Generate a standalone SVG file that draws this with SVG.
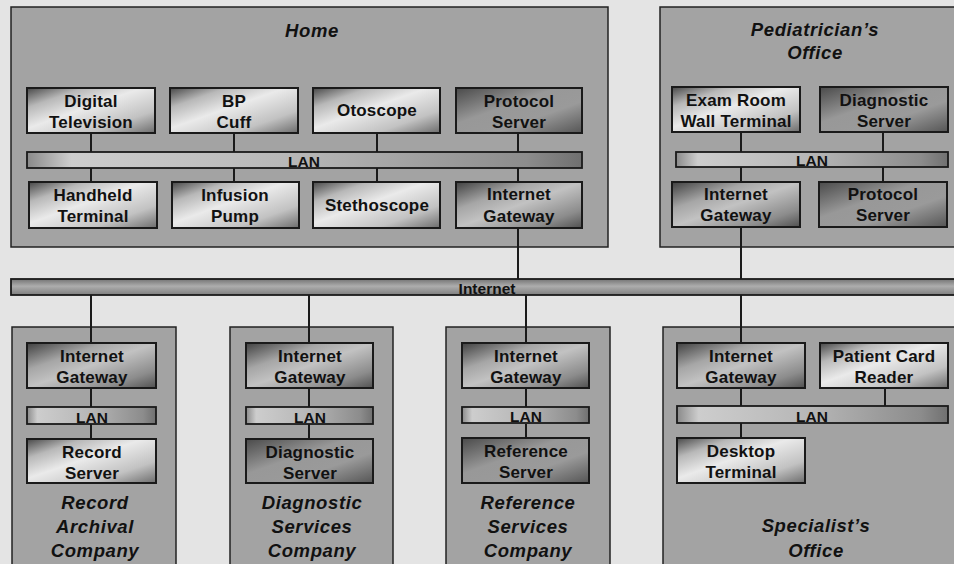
<svg xmlns="http://www.w3.org/2000/svg" width="954" height="564" viewBox="0 0 954 564">
<defs>
<linearGradient id="gLight" x1="0" y1="0" x2="1" y2="1">
<stop offset="0" stop-color="#474747"/>
<stop offset="0.22" stop-color="#b8b8b8"/>
<stop offset="0.45" stop-color="#eaeaea"/>
<stop offset="0.75" stop-color="#c2c2c2"/>
<stop offset="1" stop-color="#6c6c6c"/>
</linearGradient>
<linearGradient id="gMid" x1="0" y1="0" x2="1" y2="1">
<stop offset="0" stop-color="#404040"/>
<stop offset="0.3" stop-color="#a6a6a6"/>
<stop offset="0.5" stop-color="#c2c2c2"/>
<stop offset="0.8" stop-color="#8c8c8c"/>
<stop offset="1" stop-color="#505050"/>
</linearGradient>
<linearGradient id="gDark" x1="0" y1="0" x2="1" y2="1">
<stop offset="0" stop-color="#4a4a4a"/>
<stop offset="0.4" stop-color="#989898"/>
<stop offset="0.65" stop-color="#9a9a9a"/>
<stop offset="1" stop-color="#555"/>
</linearGradient>
<linearGradient id="gLan" x1="0" y1="0" x2="1" y2="0">
<stop offset="0" stop-color="#8a8a8a"/>
<stop offset="0.08" stop-color="#cdcdcd"/>
<stop offset="0.5" stop-color="#b6b6b6"/>
<stop offset="0.9" stop-color="#8c8c8c"/>
<stop offset="1" stop-color="#707070"/>
</linearGradient>
<linearGradient id="gBus" x1="0" y1="0" x2="0" y2="1">
<stop offset="0" stop-color="#747474"/>
<stop offset="0.45" stop-color="#adadad"/>
<stop offset="1" stop-color="#7e7e7e"/>
</linearGradient>
</defs>
<style>
.bg{fill:#e4e4e4}
.site{fill:#a3a3a3;stroke:#222;stroke-width:1.5}
.nl{stroke:#1a1a1a;stroke-width:2}
.light{fill:url(#gLight)}
.mid{fill:url(#gMid)}
.dark{fill:url(#gDark)}
.lan{fill:url(#gLan);stroke:#1a1a1a;stroke-width:1.8}
.bus{fill:url(#gBus);stroke:#1a1a1a;stroke-width:1.8}
.t{font-family:"Liberation Sans",Arial,sans-serif;font-weight:bold;font-size:17px;letter-spacing:0.2px;fill:#111;text-anchor:middle}
.bt{font-family:"Liberation Sans",Arial,sans-serif;font-weight:bold;font-size:15.5px;fill:#111;text-anchor:middle}
.title{font-family:"Liberation Sans",Arial,sans-serif;font-weight:bold;font-style:italic;font-size:18.5px;letter-spacing:0.6px;fill:#111;text-anchor:middle}
.c{stroke:#1a1a1a;stroke-width:2;fill:none}
</style>
<rect class="bg" x="0" y="0" width="954" height="564"/>

<!-- Sites -->
<g id="site-home">
<rect class="site" x="11" y="7" width="597" height="240"/>
<text class="title" x="312" y="37">Home</text>
</g>
<g id="site-pediatrician">
<rect class="site" x="660" y="7" width="310" height="240"/>
<text class="title" x="815" y="36">Pediatrician’s</text>
<text class="title" x="815" y="59">Office</text>
</g>
<g id="site-record">
<rect class="site" x="12" y="327" width="164" height="250"/>
<text class="title" x="95" y="509">Record</text>
<text class="title" x="95" y="533">Archival</text>
<text class="title" x="95" y="557">Company</text>
</g>
<g id="site-diagnostic">
<rect class="site" x="230" y="327" width="163" height="250"/>
<text class="title" x="312" y="509">Diagnostic</text>
<text class="title" x="312" y="533">Services</text>
<text class="title" x="312" y="557">Company</text>
</g>
<g id="site-reference">
<rect class="site" x="446" y="327" width="164" height="250"/>
<text class="title" x="528" y="509">Reference</text>
<text class="title" x="528" y="533">Services</text>
<text class="title" x="528" y="557">Company</text>
</g>
<g id="site-specialist">
<rect class="site" x="663" y="327" width="310" height="250"/>
<text class="title" x="816" y="532">Specialist’s</text>
<text class="title" x="816" y="557">Office</text>
</g>

<!-- Connectors -->
<g id="connectors">
<path class="c" d="M91 133V152M91 168V182M234 133V152M234 168V182M377 133V152M377 168V182M518 133V152M518 168V182M518 228V279"/>
<path class="c" d="M741 132V152M741 167V182M741 227V279M883 132V152M883 167V182"/>
<path class="c" d="M91 295V343M91 388V407M91 424V439"/>
<path class="c" d="M309 295V343M309 388V407M309 424V439"/>
<path class="c" d="M526 295V343M526 388V407M526 424V439"/>
<path class="c" d="M741 295V343M741 388V406M741 423V438M885 388V406"/>
</g>

<!-- Buses -->
<g id="internet">
<rect class="bus" x="11" y="279" width="960" height="16"/>
<text class="bt" x="487" y="294">Internet</text>
</g>
<g id="lan-home">
<rect class="lan" x="27" y="152" width="555" height="16"/>
<text class="bt" x="304" y="167">LAN</text>
</g>
<g id="lan-pediatrician">
<rect class="lan" x="676" y="152" width="272" height="15"/>
<text class="bt" x="812" y="166">LAN</text>
</g>
<g id="lan-record">
<rect class="lan" x="27" y="407" width="129" height="17"/>
<text class="bt" x="92" y="423">LAN</text>
</g>
<g id="lan-diagnostic">
<rect class="lan" x="246" y="407" width="127" height="17"/>
<text class="bt" x="310" y="423">LAN</text>
</g>
<g id="lan-reference">
<rect class="lan" x="462" y="407" width="127" height="16"/>
<text class="bt" x="526" y="422">LAN</text>
</g>
<g id="lan-specialist">
<rect class="lan" x="677" y="406" width="271" height="17"/>
<text class="bt" x="812" y="422">LAN</text>
</g>

<!-- Home nodes -->
<g id="digital-television">
<rect class="nl light" x="27" y="88" width="128" height="45"/>
<text class="t" x="91" y="107">Digital</text>
<text class="t" x="91" y="128">Television</text>
</g>
<g id="bp-cuff">
<rect class="nl light" x="170" y="88" width="128" height="45"/>
<text class="t" x="234" y="107">BP</text>
<text class="t" x="234" y="128">Cuff</text>
</g>
<g id="otoscope">
<rect class="nl light" x="313" y="88" width="127" height="45"/>
<text class="t" x="377" y="116">Otoscope</text>
</g>
<g id="protocol-server-home">
<rect class="nl dark" x="456" y="88" width="126" height="45"/>
<text class="t" x="519" y="107">Protocol</text>
<text class="t" x="519" y="128">Server</text>
</g>
<g id="handheld-terminal">
<rect class="nl light" x="29" y="182" width="128" height="46"/>
<text class="t" x="93" y="201">Handheld</text>
<text class="t" x="93" y="222">Terminal</text>
</g>
<g id="infusion-pump">
<rect class="nl light" x="172" y="182" width="127" height="46"/>
<text class="t" x="235" y="201">Infusion</text>
<text class="t" x="235" y="222">Pump</text>
</g>
<g id="stethoscope">
<rect class="nl light" x="313" y="182" width="127" height="46"/>
<text class="t" x="377" y="211">Stethoscope</text>
</g>
<g id="gateway-home">
<rect class="nl mid" x="456" y="182" width="126" height="46"/>
<text class="t" x="519" y="200">Internet</text>
<text class="t" x="519" y="222">Gateway</text>
</g>

<!-- Pediatrician nodes -->
<g id="exam-room-terminal">
<rect class="nl light" x="672" y="87" width="128" height="45"/>
<text class="t" x="736" y="106">Exam Room</text>
<text class="t" x="736" y="127">Wall Terminal</text>
</g>
<g id="diagnostic-server-ped">
<rect class="nl dark" x="820" y="87" width="128" height="45"/>
<text class="t" x="884" y="106">Diagnostic</text>
<text class="t" x="884" y="127">Server</text>
</g>
<g id="gateway-ped">
<rect class="nl mid" x="672" y="182" width="128" height="45"/>
<text class="t" x="736" y="200">Internet</text>
<text class="t" x="736" y="221">Gateway</text>
</g>
<g id="protocol-server-ped">
<rect class="nl dark" x="819" y="182" width="128" height="45"/>
<text class="t" x="883" y="200">Protocol</text>
<text class="t" x="883" y="221">Server</text>
</g>

<!-- Record company -->
<g id="gateway-record">
<rect class="nl mid" x="27" y="343" width="129" height="45"/>
<text class="t" x="92" y="362">Internet</text>
<text class="t" x="92" y="383">Gateway</text>
</g>
<g id="record-server">
<rect class="nl light" x="27" y="439" width="129" height="44"/>
<text class="t" x="92" y="458">Record</text>
<text class="t" x="92" y="479">Server</text>
</g>

<!-- Diagnostic company -->
<g id="gateway-diagnostic">
<rect class="nl mid" x="246" y="343" width="127" height="45"/>
<text class="t" x="310" y="362">Internet</text>
<text class="t" x="310" y="383">Gateway</text>
</g>
<g id="diagnostic-server">
<rect class="nl dark" x="246" y="439" width="127" height="44"/>
<text class="t" x="310" y="458">Diagnostic</text>
<text class="t" x="310" y="479">Server</text>
</g>

<!-- Reference company -->
<g id="gateway-reference">
<rect class="nl mid" x="462" y="343" width="127" height="45"/>
<text class="t" x="526" y="362">Internet</text>
<text class="t" x="526" y="383">Gateway</text>
</g>
<g id="reference-server">
<rect class="nl dark" x="462" y="438" width="127" height="45"/>
<text class="t" x="526" y="457">Reference</text>
<text class="t" x="526" y="478">Server</text>
</g>

<!-- Specialist office -->
<g id="gateway-specialist">
<rect class="nl mid" x="677" y="343" width="128" height="45"/>
<text class="t" x="741" y="362">Internet</text>
<text class="t" x="741" y="383">Gateway</text>
</g>
<g id="patient-card-reader">
<rect class="nl light" x="820" y="343" width="128" height="45"/>
<text class="t" x="884" y="362">Patient Card</text>
<text class="t" x="884" y="383">Reader</text>
</g>
<g id="desktop-terminal">
<rect class="nl light" x="677" y="438" width="128" height="45"/>
<text class="t" x="741" y="457">Desktop</text>
<text class="t" x="741" y="478">Terminal</text>
</g>
</svg>
